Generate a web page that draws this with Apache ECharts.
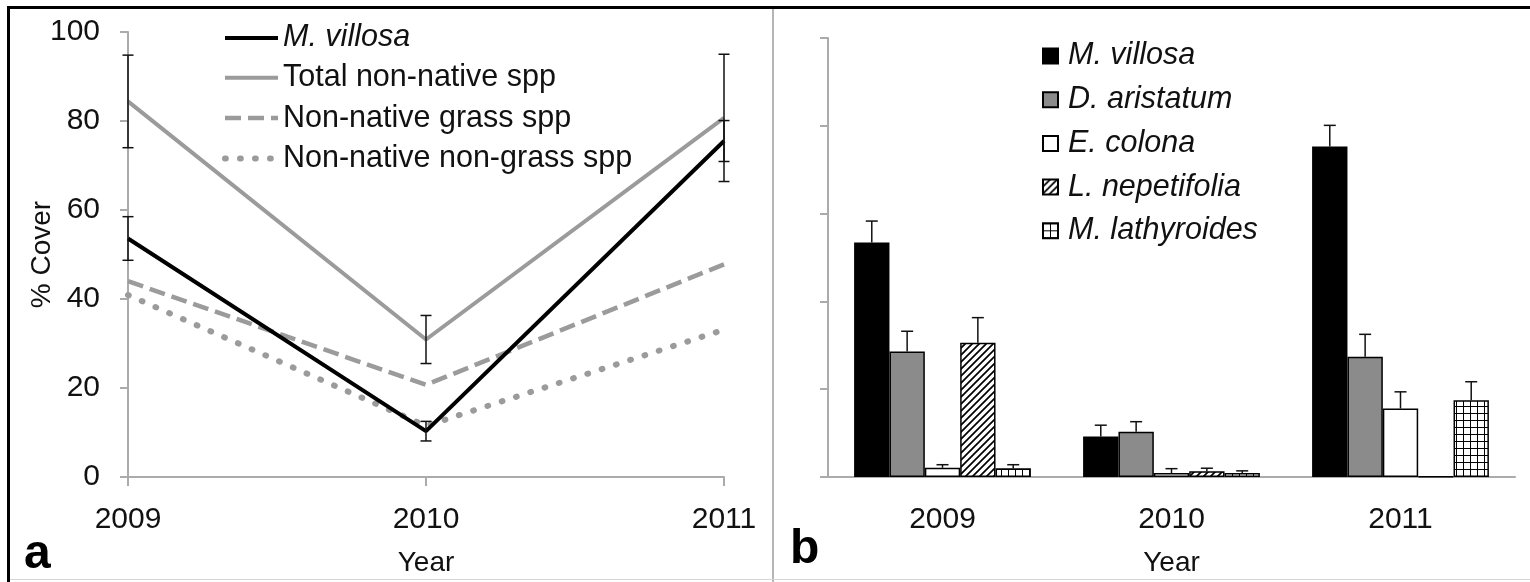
<!DOCTYPE html>
<html>
<head>
<meta charset="utf-8">
<script src="https://cdn.jsdelivr.net/npm/echarts@6/dist/echarts.min.js"></script>
<style>
  html, body { margin: 0; padding: 0; background: #fff; }
  #chart { width: 1530px; height: 582px; }
</style>
</head>
<body>
<div id="chart"></div>
<script>
// ---- data ----
const years = ['2009', '2010', '2011'];
const yTicks = [0, 20, 40, 60, 80, 100];

// panel a: % cover over time
const villosaLine = [53.6, 10.3, 75.5];
const villosaLineErr = [4.9, 2.2, 4.6];
const totalNonNative = [84.4, 30.9, 80.7];
const totalNonNativeErr = [10.4, 5.4, 14.3];
const nonNativeGrass = [44.0, 20.7, 47.8];
const nonNativeNonGrass = [40.9, 11.5, 33.1];

// panel b: cover by species
const speciesNames = ['M. villosa', 'D. aristatum', 'E. colona', 'L. nepetifolia', 'M. lathyroides'];
const villosaBar = [53.4, 9.2, 75.3];
const villosaBarErr = [4.9, 2.6, 4.8];
const aristatumBar = [28.6, 10.3, 27.4];
const aristatumBarErr = [4.6, 2.3, 5.1];
const colonaBar = [2.1, 0.9, 15.6];
const colonaBarErr = [0.7, 1.0, 3.8];
const nepetifoliaBar = [30.6, 1.3, 0.1];
const nepetifoliaBarErr = [5.7, 0.7, 0];
const lathyroidesBar = [2.0, 0.9, 17.5];
const lathyroidesBarErr = [0.8, 0.5, 4.2];

// ---- styling ----
const FONT = '"Liberation Sans", Arial, sans-serif';
const TXT = '#111';
const AXIS_GRAY = '#ababab';
const LINE_GRAY = '#9b9b9b';
const CAT_GAP = 0.228;

function hatchPattern() {
  const s = 7, c = document.createElement('canvas');
  c.width = c.height = s;
  const g = c.getContext('2d');
  g.fillStyle = '#fff'; g.fillRect(0, 0, s, s);
  g.strokeStyle = '#000'; g.lineWidth = 1.7;
  g.beginPath();
  g.moveTo(-1, s + 1); g.lineTo(s + 1, -1);
  g.moveTo(-2, 2); g.lineTo(2, -2);
  g.moveTo(s - 2, s + 2); g.lineTo(s + 2, s - 2);
  g.stroke();
  return c;
}
function gridPattern() {
  const s = 7, c = document.createElement('canvas');
  c.width = c.height = s;
  const g = c.getContext('2d');
  g.fillStyle = '#fff'; g.fillRect(0, 0, s, s);
  g.fillStyle = '#000';
  g.fillRect(0, 0, s, 1);
  g.fillRect(0, 0, 1, s);
  return c;
}

const barStyles = [
  { color: '#000' },
  { color: '#8b8b8b' },
  { color: '#fff' },
  { color: { image: hatchPattern(), repeat: 'repeat' } },
  { color: { image: gridPattern(), repeat: 'repeat' } }
];
const barValues = [villosaBar, aristatumBar, colonaBar, nepetifoliaBar, lathyroidesBar];
const barErrs = [villosaBarErr, aristatumBarErr, colonaBarErr, nepetifoliaBarErr, lathyroidesBarErr];

// symmetric error bars on the line panel: [category, low, high]
const lineErrData = [];
[[villosaLine, villosaLineErr], [totalNonNative, totalNonNativeErr]].forEach(([v, e]) => {
  v.forEach((val, i) => lineErrData.push([i, val - e[i], val + e[i]]));
});

// upper error bars on the bar panel: [category, species index, value, error]
const barErrData = [];
barValues.forEach((vals, k) => {
  vals.forEach((val, i) => barErrData.push([i, k, val, barErrs[k][i]]));
});

function capLines(x, y, half) {
  return { type: 'line', shape: { x1: x - half, y1: y, x2: x + half, y2: y },
           style: { stroke: '#111', lineWidth: 1.5 } };
}

const axisLabelStyle = { color: TXT, fontSize: 30, fontFamily: FONT };

const chart = echarts.init(document.getElementById('chart'), null, { renderer: 'canvas' });

const option = {
  backgroundColor: '#fff',
  animation: false,
  grid: [
    { left: 128, right: 806, top: 32, bottom: 102 },
    { left: 828, right: 15, top: 38, bottom: 100 }
  ],
  xAxis: [
    {
      gridIndex: 0, type: 'category', data: years, boundaryGap: false,
      axisLine: { lineStyle: { color: AXIS_GRAY, width: 2 } },
      axisTick: { length: 9, lineStyle: { color: AXIS_GRAY, width: 2 } },
      axisLabel: { ...axisLabelStyle, margin: 28 },
      name: 'Year', nameLocation: 'middle', nameGap: 72, nameMoveOverlap: false,
      nameTextStyle: { color: TXT, fontSize: 28, fontFamily: FONT }
    },
    {
      gridIndex: 1, type: 'category', data: years, boundaryGap: true,
      axisLine: { lineStyle: { color: AXIS_GRAY, width: 2 } },
      axisTick: { length: 9, lineStyle: { color: AXIS_GRAY, width: 2 } },
      axisLabel: { ...axisLabelStyle, margin: 28 },
      name: 'Year', nameLocation: 'middle', nameGap: 72, nameMoveOverlap: false,
      nameTextStyle: { color: TXT, fontSize: 28, fontFamily: FONT }
    }
  ],
  yAxis: [
    {
      gridIndex: 0, type: 'value', min: yTicks[0], max: yTicks[yTicks.length - 1], interval: 20,
      axisLine: { show: true, lineStyle: { color: AXIS_GRAY, width: 2 } },
      axisTick: { show: true, length: 8, lineStyle: { color: AXIS_GRAY, width: 2 } },
      axisLabel: { ...axisLabelStyle, margin: 28 },
      splitLine: { show: false },
      name: '% Cover', nameLocation: 'middle', nameGap: 72, nameRotate: 90, nameMoveOverlap: false,
      nameTextStyle: { color: TXT, fontSize: 28, fontFamily: FONT }
    },
    {
      gridIndex: 1, type: 'value', min: yTicks[0], max: yTicks[yTicks.length - 1], interval: 20,
      axisLine: { show: true, lineStyle: { color: AXIS_GRAY, width: 2 } },
      axisTick: { show: true, length: 8, lineStyle: { color: AXIS_GRAY, width: 2 } },
      axisLabel: { show: false },
      splitLine: { show: false }
    }
  ],
  legend: [
    {
      orient: 'vertical', left: 222, top: 23, padding: 0,
      itemWidth: 53, itemHeight: 30, itemGap: 9.3,
      data: ['M. villosa', 'Total non-native spp', 'Non-native grass spp', 'Non-native non-grass spp'],
      itemStyle: { opacity: 0 },
      lineStyle: { width: 'inherit' },
      textStyle: { color: TXT, fontSize: 30.5, fontFamily: FONT, lineHeight: 30,
                   rich: { i: { fontStyle: 'italic', fontSize: 30.5, fontFamily: FONT, color: TXT } } },
      formatter: n => n === 'M. villosa' ? '{i|' + n + '}' : n,
      selectedMode: false
    },
    {
      orient: 'vertical', left: 1042, top: 41, padding: 0,
      itemWidth: 15, itemHeight: 15, itemGap: 13.7,
      icon: 'rect',
      data: speciesNames.map(n => n + ' '),
      textStyle: { color: TXT, fontSize: 30.5, fontStyle: 'italic', fontFamily: FONT, lineHeight: 30,
                   padding: [0, 0, 0, 5] },
      formatter: n => n.trim(),
      selectedMode: false
    }
  ],
  series: [
    {
      name: 'Non-native non-grass spp', type: 'line', xAxisIndex: 0, yAxisIndex: 0,
      data: nonNativeNonGrass, symbol: 'none',
      lineStyle: { color: LINE_GRAY, width: 6, type: [0.8, 14.2], cap: 'round' }, z: 2
    },
    {
      name: 'Non-native grass spp', type: 'line', xAxisIndex: 0, yAxisIndex: 0,
      data: nonNativeGrass, symbol: 'none',
      lineStyle: { color: LINE_GRAY, width: 4.5, type: [16, 7] }, z: 3
    },
    {
      name: 'Total non-native spp', type: 'line', xAxisIndex: 0, yAxisIndex: 0,
      data: totalNonNative, symbol: 'none',
      lineStyle: { color: LINE_GRAY, width: 4 }, z: 4
    },
    {
      name: 'M. villosa', type: 'line', xAxisIndex: 0, yAxisIndex: 0,
      data: villosaLine, symbol: 'none',
      lineStyle: { color: '#000', width: 4 }, z: 5
    },
    {
      type: 'custom', xAxisIndex: 0, yAxisIndex: 0, data: lineErrData, z: 6,
      encode: { x: 0, y: [1, 2] },
      renderItem(params, api) {
        const x = api.value(0);
        const lo = api.coord([x, api.value(1)]);
        const hi = api.coord([x, api.value(2)]);
        return { type: 'group', children: [
          { type: 'line', shape: { x1: lo[0], y1: lo[1], x2: hi[0], y2: hi[1] },
            style: { stroke: '#111', lineWidth: 1.5 } },
          capLines(lo[0], lo[1], 5.5),
          capLines(hi[0], hi[1], 5.5)
        ] };
      }
    },
    ...speciesNames.map((n, k) => ({
      name: n + ' ', type: 'bar', xAxisIndex: 1, yAxisIndex: 1,
      data: barValues[k], barGap: '0%', barCategoryGap: (CAT_GAP * 100) + '%',
      itemStyle: { ...barStyles[k], borderColor: '#000', borderWidth: 1.5 }
    })),
    {
      type: 'custom', xAxisIndex: 1, yAxisIndex: 1, data: barErrData, z: 6,
      encode: { x: 0, y: 2 },
      renderItem(params, api) {
        const cat = api.value(0), k = api.value(1), v = api.value(2), e = api.value(3);
        if (!(e > 0)) return null;
        const band = api.size([1, 0])[0];
        const barW = band * (1 - CAT_GAP) / speciesNames.length;
        const base = api.coord([cat, v]);
        const top = api.coord([cat, v + e]);
        const x = base[0] + (k - (speciesNames.length - 1) / 2) * barW;
        return { type: 'group', children: [
          { type: 'line', shape: { x1: x, y1: base[1], x2: x, y2: top[1] },
            style: { stroke: '#111', lineWidth: 1.5 } },
          capLines(x, top[1], 6)
        ] };
      }
    }
  ],
  graphic: [
    // figure frame and panel divider
    { type: 'rect', shape: { x: 7, y: 6, width: 1523, height: 3 }, style: { fill: '#000' }, z: 100 },
    { type: 'rect', shape: { x: 7, y: 6, width: 3, height: 576 }, style: { fill: '#000' }, z: 100 },
    { type: 'rect', shape: { x: 772, y: 9, width: 2, height: 573 }, style: { fill: '#b5b5b5' }, z: 100 },
    { type: 'rect', shape: { x: 10, y: 579, width: 1520, height: 1 }, style: { fill: '#d5d5d5' }, z: 100 },
    // panel letters
    { type: 'text', left: 24, top: 531, z: 100,
      style: { text: 'a', font: 'bold 48px ' + FONT, fill: '#000' } },
    { type: 'text', left: 790, top: 526, z: 100,
      style: { text: 'b', font: 'bold 48px ' + FONT, fill: '#000' } }
  ]
};

chart.setOption(option);
</script>
</body>
</html>
